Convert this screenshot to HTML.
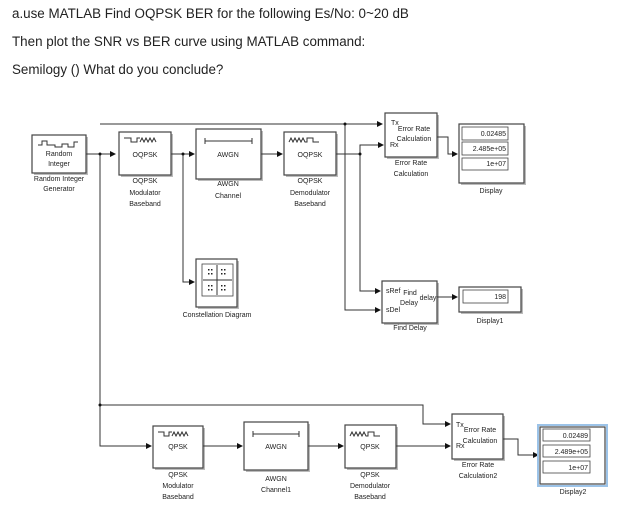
<!DOCTYPE html>
<html><head><meta charset="utf-8"><style>
body{margin:0;background:#fff;width:633px;height:513px;overflow:hidden}
svg{display:block}
.h{font-family:"Liberation Sans",sans-serif;font-size:13.4px;fill:#222}
.s{font-family:"Liberation Sans",sans-serif;font-size:7px;fill:#222;text-anchor:middle}
.b{fill:#fff;stroke:#444;stroke-width:1.2}
.l{stroke:#333;stroke-width:1;fill:none}
.f{fill:#fff;stroke:#444;stroke-width:0.8}
</style></head><body>
<svg width="633" height="513" viewBox="0 0 633 513">
<defs><marker id="a" markerWidth="6" markerHeight="6" refX="5" refY="3" orient="auto"><path d="M0,0L6,3L0,6z" fill="#111"/></marker></defs>
<text class="h" x="12" y="18">a.use MATLAB Find OQPSK BER for the following Es/No: 0~20 dB</text>
<text class="h" x="12" y="46">Then plot the SNR vs BER curve using MATLAB command:</text>
<text class="h" x="12" y="74">Semilogy () What do you conclude?</text>

<g fill="#bbb">
<rect x="34" y="137" width="54" height="38"/><rect x="121" y="134" width="52" height="43"/><rect x="198" y="131" width="65" height="50"/><rect x="286" y="134" width="52" height="43"/>
<rect x="387" y="115" width="52" height="44"/><rect x="461" y="126" width="65" height="59"/><rect x="384" y="283" width="55" height="42"/><rect x="461" y="289" width="62" height="25"/><rect x="198" y="261" width="41" height="48"/>
<rect x="155" y="428" width="50" height="42"/><rect x="246" y="424" width="64" height="48"/><rect x="347" y="427" width="51" height="43"/><rect x="454" y="416" width="51" height="45"/>
</g>

<path class="l" d="M86 154H115" marker-end="url(#a)"/>
<path class="l" d="M100 154V405M100 124H382" /><path class="l" d="M370 124H382" marker-end="url(#a)"/>
<path class="l" d="M171 154H194" marker-end="url(#a)"/>
<path class="l" d="M183 154V282H194" marker-end="url(#a)"/>
<path class="l" d="M261 154H282" marker-end="url(#a)"/>
<path class="l" d="M336 154H360V145H383" marker-end="url(#a)"/>
<path class="l" d="M360 154V291H380" marker-end="url(#a)"/>
<path class="l" d="M345 124V310H380" marker-end="url(#a)"/>
<path class="l" d="M437 137H448V154H457" marker-end="url(#a)"/>
<path class="l" d="M437 297H457" marker-end="url(#a)"/>
<path class="l" d="M100 405H423V424H450" marker-end="url(#a)"/>
<path class="l" d="M100 405V446H151" marker-end="url(#a)"/>
<path class="l" d="M203 446H242" marker-end="url(#a)"/>
<path class="l" d="M308 446H343" marker-end="url(#a)"/>
<path class="l" d="M396 446H450" marker-end="url(#a)"/>
<path class="l" d="M503 439H518V455H538" marker-end="url(#a)"/>
<g fill="#111"><circle cx="100" cy="154" r="1.5"/><circle cx="183" cy="154" r="1.5"/><circle cx="345" cy="124" r="1.5"/><circle cx="360" cy="154" r="1.5"/><circle cx="100" cy="405" r="1.5"/></g>

<rect class="b" x="32" y="135" width="54" height="38"/>
<path class="l" d="M38 145h4v-4h5v4h8v2h7v-3h6v3h6v-5h4" />
<text class="s" x="59" y="156">Random</text><text class="s" x="59" y="166">Integer</text>
<text class="s" x="59" y="181">Random Integer</text><text class="s" x="59" y="191">Generator</text>

<rect class="b" x="119" y="132" width="52" height="43"/>
<path class="l" d="M124 138h7v4h6v-4h3" /><path class="l" d="M140 142l2-4l2 4l2-4l2 4l2-4l2 4l2-4l2 4" />
<text class="s" x="145" y="157">OQPSK</text>
<text class="s" x="145" y="183">OQPSK</text><text class="s" x="145" y="195">Modulator</text><text class="s" x="145" y="206">Baseband</text>

<rect class="b" x="196" y="129" width="65" height="50"/>
<path class="l" d="M205 141h47M205 138v6M252 138v6" />
<text class="s" x="228" y="157">AWGN</text>
<text class="s" x="228" y="186">AWGN</text><text class="s" x="228" y="198">Channel</text>

<rect class="b" x="284" y="132" width="52" height="43"/>
<path class="l" d="M289 142l2-4l2 4l2-4l2 4l2-4l2 4l2-4l2 4h2v-4h6v4h6" />
<text class="s" x="310" y="157">OQPSK</text>
<text class="s" x="310" y="183">OQPSK</text><text class="s" x="310" y="195">Demodulator</text><text class="s" x="310" y="206">Baseband</text>

<rect class="b" x="385" y="113" width="52" height="44"/>
<text class="s" x="391" y="125" style="text-anchor:start">Tx</text><text class="s" x="390" y="147" style="text-anchor:start">Rx</text>
<text class="s" x="414" y="131">Error Rate</text><text class="s" x="414" y="141">Calculation</text>
<text class="s" x="411" y="165">Error Rate</text><text class="s" x="411" y="176">Calculation</text>

<rect class="b" x="459" y="124" width="65" height="59"/>
<rect class="f" x="462" y="127" width="46" height="13"/><rect class="f" x="462" y="142" width="46" height="13"/><rect class="f" x="462" y="158" width="46" height="12"/>
<text class="s" x="506" y="136" style="text-anchor:end">0.02485</text><text class="s" x="506" y="151" style="text-anchor:end">2.485e+05</text><text class="s" x="506" y="166" style="text-anchor:end">1e+07</text>
<text class="s" x="491" y="193">Display</text>

<rect class="b" x="382" y="281" width="55" height="42"/>
<text class="s" x="386" y="293" style="text-anchor:start">sRef</text><text class="s" x="386" y="312" style="text-anchor:start">sDel</text>
<text class="s" x="410" y="295">Find</text><text class="s" x="409" y="305">Delay</text><text class="s" x="428" y="300">delay</text>
<text class="s" x="410" y="330">Find Delay</text>

<rect class="b" x="459" y="287" width="62" height="25"/>
<rect class="f" x="463" y="290" width="45" height="13"/>
<text class="s" x="506" y="299" style="text-anchor:end">198</text>
<text class="s" x="490" y="323">Display1</text>

<rect class="b" x="196" y="259" width="41" height="48"/>
<rect class="f" x="202" y="264" width="31" height="32"/>
<path class="l" d="M217 265v30M203 280h29"/>
<g fill="#222"><rect x="208" y="269" width="1.5" height="1.5"/><rect x="211" y="269" width="1.5" height="1.5"/><rect x="208" y="273" width="1.5" height="1.5"/><rect x="211" y="273" width="1.5" height="1.5"/>
<rect x="221" y="269" width="1.5" height="1.5"/><rect x="224" y="269" width="1.5" height="1.5"/><rect x="221" y="273" width="1.5" height="1.5"/><rect x="224" y="273" width="1.5" height="1.5"/>
<rect x="208" y="285" width="1.5" height="1.5"/><rect x="211" y="285" width="1.5" height="1.5"/><rect x="208" y="289" width="1.5" height="1.5"/><rect x="211" y="289" width="1.5" height="1.5"/>
<rect x="221" y="285" width="1.5" height="1.5"/><rect x="224" y="285" width="1.5" height="1.5"/><rect x="221" y="289" width="1.5" height="1.5"/><rect x="224" y="289" width="1.5" height="1.5"/></g>
<text class="s" x="217" y="317">Constellation Diagram</text>

<rect class="b" x="153" y="426" width="50" height="42"/>
<path class="l" d="M158 432h6v4h5v-4h3" /><path class="l" d="M172 436l2-4l2 4l2-4l2 4l2-4l2 4l2-4l2 4" />
<text class="s" x="178" y="449">QPSK</text>
<text class="s" x="178" y="477">QPSK</text><text class="s" x="178" y="488">Modulator</text><text class="s" x="178" y="499">Baseband</text>

<rect class="b" x="244" y="422" width="64" height="48"/>
<path class="l" d="M253 434h46M253 431v6M299 431v6" />
<text class="s" x="276" y="449">AWGN</text>
<text class="s" x="276" y="481">AWGN</text><text class="s" x="276" y="492">Channel1</text>

<rect class="b" x="345" y="425" width="51" height="43"/>
<path class="l" d="M350 436l2-4l2 4l2-4l2 4l2-4l2 4l2-4l2 4h2v-4h6v4h6" />
<text class="s" x="370" y="449">QPSK</text>
<text class="s" x="370" y="477">QPSK</text><text class="s" x="370" y="488">Demodulator</text><text class="s" x="370" y="499">Baseband</text>

<rect class="b" x="452" y="414" width="51" height="45"/>
<text class="s" x="456" y="427" style="text-anchor:start">Tx</text><text class="s" x="456" y="448" style="text-anchor:start">Rx</text>
<text class="s" x="480" y="432">Error Rate</text><text class="s" x="480" y="443">Calculation</text>
<text class="s" x="478" y="467">Error Rate</text><text class="s" x="478" y="478">Calculation2</text>

<rect x="538" y="425" width="69" height="61" fill="none" stroke="#9cc3e8" stroke-width="2"/>
<rect class="b" x="540" y="427" width="65" height="57"/>
<rect class="f" x="543" y="429" width="47" height="12"/><rect class="f" x="543" y="445" width="47" height="12"/><rect class="f" x="543" y="461" width="47" height="12"/>
<text class="s" x="588" y="438" style="text-anchor:end">0.02489</text><text class="s" x="588" y="454" style="text-anchor:end">2.489e+05</text><text class="s" x="588" y="470" style="text-anchor:end">1e+07</text>
<text class="s" x="573" y="494">Display2</text>
</svg>
</body></html>
